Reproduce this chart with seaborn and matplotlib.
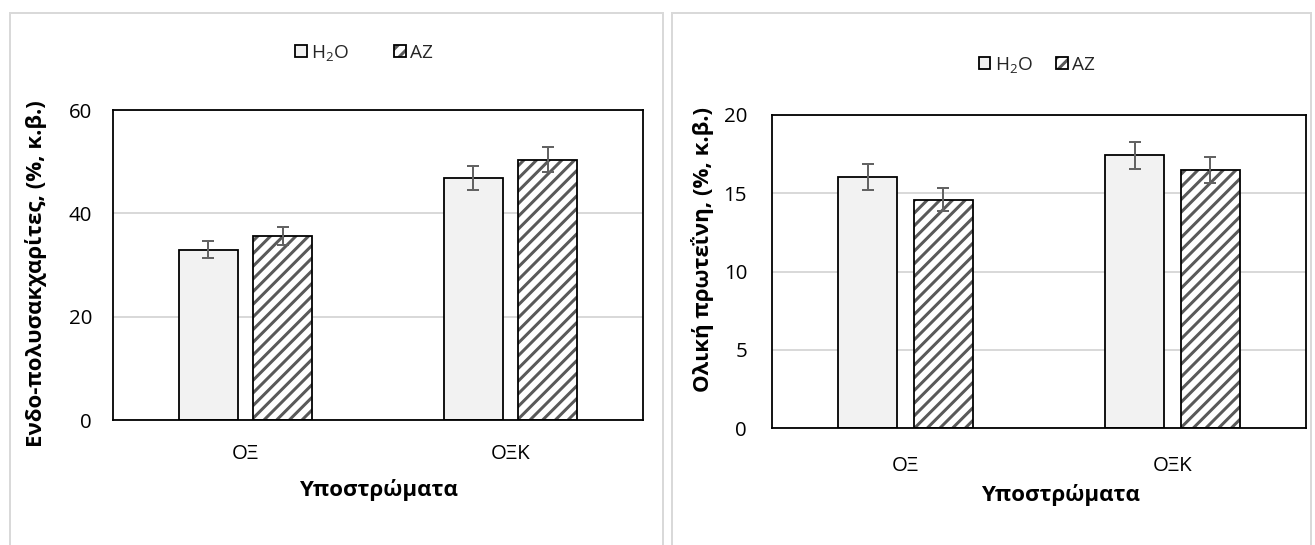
import matplotlib
matplotlib.use("Agg")
import matplotlib.pyplot as plt
import matplotlib.colors as mcolors
from matplotlib.patches import Patch, Rectangle
import seaborn as sns
import pandas as pd

# ---------------- data ----------------
categories = ["ΟΞ", "ΟΞΚ"]
series = ["H$_2$O", "AZ"]
eps_h2o = [33.0, 46.9]
eps_az = [35.6, 50.4]
eps_h2o_err = [1.7, 2.35]
eps_az_err = [1.8, 2.45]
prot_h2o = [16.05, 17.42]
prot_az = [14.6, 16.47]
prot_h2o_err = [0.83, 0.87]
prot_az_err = [0.73, 0.83]
left_yticks = [0, 20, 40, 60]
right_yticks = [0, 5, 10, 15, 20]
left_ylabel = "Ενδο-πολυσακχαρίτες, (%, κ.β.)"
right_ylabel = "Ολική πρωτεΐνη, (%, κ.β.)"
xlabel = "Υποστρώματα"

# ---------------- style ----------------
W, H, DPI = 1315, 545, 114


def pt(px):
    """pixels -> points at the output dpi"""
    return px * 72.0 / DPI


sns.set_theme(style="white")
plt.rcParams["font.family"] = ["Open Sans", "DejaVu Sans"]
plt.rcParams["mathtext.fontset"] = "custom"
plt.rcParams["mathtext.rm"] = "Open Sans"
plt.rcParams["mathtext.it"] = "Open Sans:italic"
plt.rcParams["mathtext.bf"] = "Open Sans:bold"
plt.rcParams["hatch.linewidth"] = pt(3.0)

FILL = "#f2f2f2"
HATCH_C = "#595959"
GRID_C = "#d9d9d9"
ERR_C = "#636363"
TICK_FS = pt(20.5)
LEG_FS = pt(19)
LAB_FS = pt(22.3)
EDGE_LW = pt(1.8)

fig = plt.figure(figsize=(W / DPI, H / DPI), dpi=DPI)


def fx(px):
    return px / W


def fy(py):
    return 1 - py / H


# panel borders (chart-area frames)
for x0, x1 in [(10, 663), (672, 1311)]:
    fig.add_artist(Rectangle((fx(x0), fy(560)), fx(x1 - x0), (560 - 13) / H,
                             transform=fig.transFigure, fill=False,
                             edgecolor=GRID_C, linewidth=pt(2.0)))


def make_panel(rect, h2o, az, h2o_err, az_err, yticks, ylabel,
               ylab_pos, xlab_pos, leg_pos, ytick_pad, xtick_pad, colspace):
    ax = fig.add_axes(rect)
    df = pd.DataFrame({
        "cat": categories * 2,
        "series": [series[0]] * len(categories) + [series[1]] * len(categories),
        "val": list(h2o) + list(az),
    })
    sns.barplot(data=df, x="cat", y="val", hue="series", order=categories,
                hue_order=series, palette=[FILL, "white"], width=0.565,
                gap=0.2123, errorbar=None, edgecolor="black",
                linewidth=EDGE_LW, ax=ax, legend=False)
    bars = [p for p in ax.patches if isinstance(p, Rectangle)]
    n = len(categories)
    errs = list(h2o_err) + list(az_err)
    vals = list(h2o) + list(az)
    for i, p in enumerate(bars):
        p.set_linewidth(EDGE_LW)
        p.set_edgecolor("black")
        if i >= n:
            p.set_hatch("///")
            p._hatch_color = mcolors.to_rgba(HATCH_C)
        xc = p.get_x() + p.get_width() / 2
        ax.errorbar(xc, vals[i], yerr=errs[i], fmt="none", ecolor=ERR_C,
                    elinewidth=pt(2.0), capsize=pt(6), capthick=pt(2.0),
                    zorder=5)
    ax.set_ylim(yticks[0], yticks[-1])
    ax.set_yticks(yticks)
    ax.set_xlim(-0.5, len(categories) - 0.5)
    ax.yaxis.grid(True, color=GRID_C, linewidth=pt(2.0))
    ax.xaxis.grid(False)
    ax.set_axisbelow(True)
    for s in ax.spines.values():
        s.set_visible(True)
        s.set_color("black")
        s.set_linewidth(pt(1.8))
    ax.tick_params(axis="both", length=0, labelsize=TICK_FS, colors="black")
    ax.tick_params(axis="y", pad=ytick_pad)
    ax.tick_params(axis="x", pad=xtick_pad)
    ax.set_ylabel(ylabel, fontsize=LAB_FS, fontweight="bold", color="black")
    ax.set_xlabel(xlabel, fontsize=LAB_FS, fontweight="bold", color="black")
    ax.yaxis.set_label_coords(*ylab_pos)
    ax.xaxis.set_label_coords(*xlab_pos)
    h_h2o = Patch(facecolor=FILL, edgecolor="black", linewidth=EDGE_LW)
    h_az = Patch(facecolor="white", edgecolor="black", linewidth=EDGE_LW,
                 hatch="///")
    h_az._hatch_color = mcolors.to_rgba(HATCH_C)
    ax.legend([h_h2o, h_az], series, loc="center", ncol=2,
              bbox_to_anchor=(fx(leg_pos[0]), fy(leg_pos[1])),
              bbox_transform=fig.transFigure, frameon=False,
              fontsize=LEG_FS, handlelength=0.62, handleheight=0.62,
              handletextpad=0.25, columnspacing=colspace)
    return ax


# left panel: axes x 113..643, y 110..420
make_panel([fx(113), fy(420), fx(530), 310 / H],
           eps_h2o, eps_az, eps_h2o_err, eps_az_err, left_yticks,
           left_ylabel,
           ((47 - 113) / 530, (420 - 274) / 310),
           (0.5, (420 - 479) / 310),
           (364, 53), pt(21), pt(24), 2.35)
# right panel: axes x 772..1306, y 115..428
make_panel([fx(772), fy(428), fx(534), 313 / H],
           prot_h2o, prot_az, prot_h2o_err, prot_az_err, right_yticks,
           right_ylabel,
           ((714 - 772) / 534, (428 - 249) / 313),
           ((1060 - 772) / 534, (428 - 484) / 313),
           (1037, 65), pt(25), pt(28), 1.2)

fig.savefig("out.png", dpi=DPI, facecolor="white")
